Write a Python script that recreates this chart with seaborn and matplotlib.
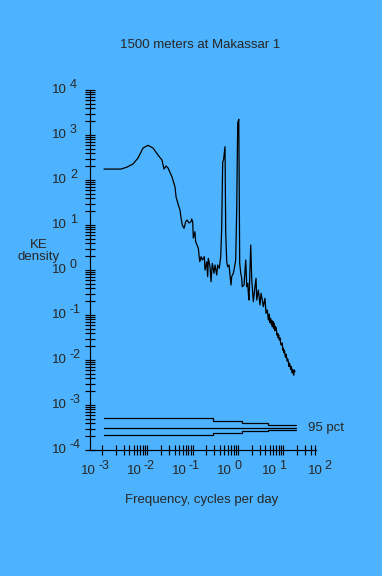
import numpy as np
import pandas as pd
import matplotlib
matplotlib.use('Agg')
import matplotlib.pyplot as plt
from matplotlib.ticker import LogLocator, NullFormatter, FixedLocator
import seaborn as sns

# spectrum (frequency in cycles per day, KE density)
freq = [0.00110, 0.00261, 0.00349, 0.00481, 0.00620, 0.00800, 0.0103, 0.0133, 0.0171, 0.0210,
        0.0232, 0.0257, 0.0285, 0.0349, 0.0407, 0.0428, 0.0481, 0.0525, 0.0552, 0.0589,
        0.0643, 0.0700, 0.0748, 0.0828, 0.0917, 0.0950, 0.100, 0.103, 0.112, 0.116,
        0.129, 0.133, 0.143, 0.153, 0.163, 0.180, 0.187, 0.204, 0.214, 0.221,
        0.241, 0.254, 0.271, 0.295, 0.311, 0.339, 0.356, 0.386, 0.415, 0.436,
        0.459, 0.479, 0.517, 0.535, 0.563, 0.593, 0.633, 0.666, 0.700, 0.726,
        0.787, 0.829, 0.889, 0.936, 0.985, 1.04, 1.07, 1.09, 1.15, 1.21,
        1.24, 1.36, 1.48, 1.56, 1.64, 1.69, 1.75, 1.91, 2.01, 2.18,
        2.37, 2.50, 2.59, 2.81, 3.06, 3.22, 3.44, 3.62, 3.94, 4.15,
        4.43, 4.67, 4.90, 5.05, 5.27, 5.45, 5.60, 5.71, 5.90, 6.10,
        6.33, 6.50, 6.65, 6.80, 7.00, 7.20, 7.52, 7.70, 7.90, 8.16,
        8.50, 8.80, 9.22, 9.50, 9.75, 10.0, 10.3, 10.6, 10.9, 11.2,
        11.5, 11.9, 12.2, 12.5, 12.9, 13.3, 13.7, 14.1, 14.5, 14.9,
        15.3, 15.7, 16.1, 16.6, 17.0, 17.5, 18.1]
density = [175, 175, 192, 227, 308, 514, 590, 514, 359, 278,
           175, 205, 185, 117, 69.9, 42.5, 27.8, 21.5, 14.3, 10.0,
           8.45, 11.8, 12.9, 11.1, 11.8, 13.6, 11.8, 5.14, 7.10, 4.26,
           3.29, 3.03, 1.53, 1.98, 1.67, 1.98, 1.00, 1.53, 0.711, 1.82,
           1.18, 0.550, 1.41, 0.844, 1.29, 0.774, 1.29, 1.09, 1.98, 8.45,
           251, 278, 550, 7.10, 1.53, 1.18, 1.29, 0.774, 0.464, 0.711,
           0.844, 1.09, 1.67, 21.5, 1850, 2230, 21.5, 1.41, 0.844, 0.654,
           0.426, 0.464, 1.67, 0.426, 0.506, 0.303, 0.215, 3.59, 0.599, 0.198,
           0.426, 0.654, 0.215, 0.359, 0.167, 0.303, 0.215, 0.153, 0.235, 0.109,
           0.129, 0.0774, 0.105, 0.068, 0.0845, 0.062, 0.075, 0.055, 0.072, 0.050,
           0.0654, 0.045, 0.056, 0.0464, 0.052, 0.036, 0.0392, 0.031, 0.036, 0.0278,
           0.031, 0.022, 0.0215, 0.024, 0.0165, 0.0182, 0.0145, 0.0165, 0.0129, 0.0115,
           0.0135, 0.0109, 0.0095, 0.0105, 0.00918, 0.0072, 0.0085, 0.00774, 0.0062, 0.0072,
           0.00654, 0.0052, 0.0061, 0.00506, 0.0046, 0.0060, 0.0055]

# 95 pct confidence band (steps)
ci_freq = [0.00110, 0.281, 1.22, 4.59, 19.1]
ci_upper = [5.06e-4, 4.41e-4, 3.92e-4, 3.54e-4, 3.54e-4]
ci_mid = [3.03e-4, 3.03e-4, 3.03e-4, 3.03e-4, 3.03e-4]
ci_lower = [2.15e-4, 2.42e-4, 2.64e-4, 2.83e-4, 2.83e-4]

y_exps = [-4, -3, -2, -1, 0, 1, 2, 3, 4]
x_exps = [-3, -2, -1, 0, 1, 2]

bg = '#4db3ff'
sns.set_style('ticks')
plt.rcParams['font.family'] = ['Liberation Sans', 'DejaVu Sans']

fig = plt.figure(figsize=(3.82, 5.76), dpi=100, facecolor=bg)
ax = fig.add_axes([90 / 382, 126 / 576, (328.6 - 90) / 382, 360 / 576])
ax.set_facecolor(bg)

spec = pd.DataFrame({'freq': freq, 'density': density})
sns.lineplot(data=spec, x='freq', y='density', estimator=None, sort=False,
             color='black', lw=0.9, ax=ax)
for band in [ci_upper, ci_mid, ci_lower]:
    sns.lineplot(x=ci_freq, y=band, estimator=None, sort=False, color='black',
                 lw=0.9, drawstyle='steps-post', ax=ax)

ax.set_xscale('log')
ax.set_yscale('log')
ax.set_xlim(5.4e-4, 100)
ax.set_ylim(1e-4, 1e4)

for s in ['top', 'right']:
    ax.spines[s].set_visible(False)
for s in ['left', 'bottom']:
    ax.spines[s].set_linewidth(0.85)
    ax.spines[s].set_color('black')
ax.spines['bottom'].set_bounds(5.4e-4, 53)

ax.yaxis.set_major_locator(FixedLocator([10.0 ** e for e in y_exps]))
ax.yaxis.set_minor_locator(LogLocator(base=10, subs=np.arange(2, 10), numticks=20))
ax.yaxis.set_minor_formatter(NullFormatter())
ax.yaxis.set_major_formatter(NullFormatter())

minor_x = [m * 10.0 ** e for e in x_exps for m in range(2, 10)]
minor_x = [v for v in minor_x if v < 53]
ax.xaxis.set_major_locator(FixedLocator([10.0 ** e for e in x_exps if e < 2]))
ax.xaxis.set_minor_locator(FixedLocator(minor_x))
ax.xaxis.set_minor_formatter(NullFormatter())
ax.xaxis.set_major_formatter(NullFormatter())

ax.tick_params(which='both', direction='inout', length=7, width=0.85, color='black')

# "10" with a raised exponent, as in the original
for e in y_exps:
    ax.annotate('10', xy=(0, 10.0 ** e), xycoords=('axes fraction', 'data'),
                xytext=(-23, 0), textcoords='offset pixels', ha='right', va='center',
                fontsize=9.5)
    ax.annotate(str(e), xy=(0, 10.0 ** e), xycoords=('axes fraction', 'data'),
                xytext=(-20, 5), textcoords='offset pixels', ha='left', va='center',
                fontsize=9)
for e in x_exps:
    ax.annotate('10', xy=(10.0 ** e, 0), xycoords=('data', 'axes fraction'),
                xytext=(-6, -21), textcoords='offset pixels', ha='right', va='center',
                fontsize=9.5)
    ax.annotate(str(e), xy=(10.0 ** e, 0), xycoords=('data', 'axes fraction'),
                xytext=(-4, -16), textcoords='offset pixels', ha='left', va='center',
                fontsize=9)

ax.set_xlabel('')
ax.set_ylabel('')
ax.text(35, 3.03e-4, '95 pct', ha='left', va='center', fontsize=9.5)

fig.text(200 / 382, 1 - 45 / 576, '1500 meters at Makassar 1', ha='center', va='center',
         fontsize=9.5)
fig.text(202 / 382, 1 - 500 / 576, 'Frequency, cycles per day', ha='center', va='center',
         fontsize=9.5)
fig.text(39 / 382, 1 - 251 / 576, 'KE\ndensity', ha='center', va='center',
         fontsize=9.5, linespacing=1.05)

fig.savefig('out.png', dpi=100, facecolor=bg)
